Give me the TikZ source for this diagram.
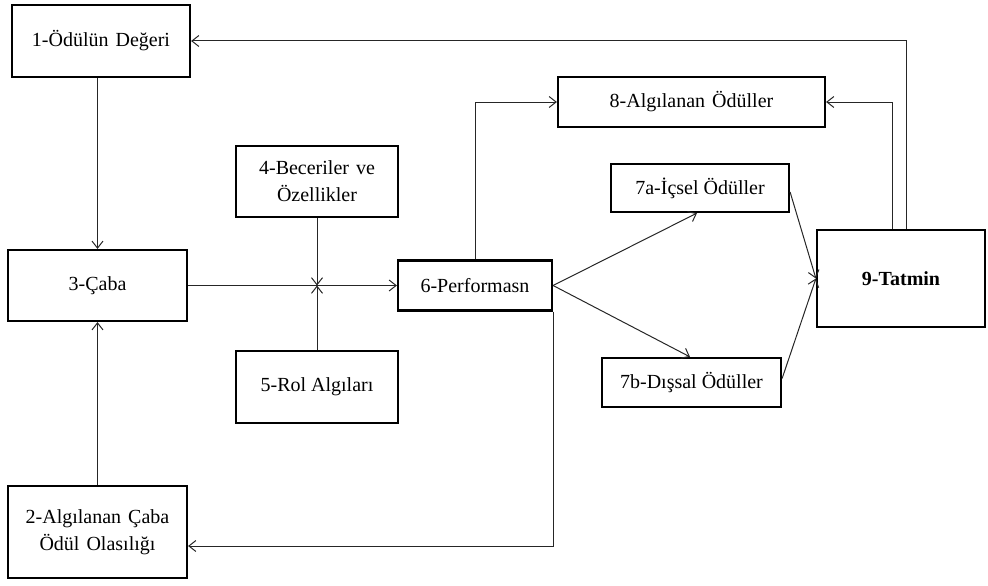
\documentclass[tikz,border=0pt]{standalone}
\usepackage{fontspec}
\setmainfont{Liberation Serif}
\usetikzlibrary{arrows.meta}
\newcommand{\wsp}{\hspace{7pt}}
\begin{document}
\begin{tikzpicture}[x=1pt,y=-1pt,
  box/.style={draw=black,line width=2.2pt,rectangle,inner sep=0pt,align=center,
    font=\fontsize{20}{27}\selectfont},
  arr/.style={draw=black!85,line width=1pt,-{Straight Barb[length=7pt,width=11pt]}}]
\useasboundingbox (0,0) rectangle (988,586);
\node[box,minimum width=178pt,minimum height=72pt] (n1) at (101,41) {1-Ödülün\wsp Değeri};
\node[box,minimum width=179pt,minimum height=71pt] (n3) at (97.5,285.5) {3-Çaba};
\node[box,minimum width=179pt,minimum height=92pt] (n2) at (97.5,532) {2-Algılanan\wsp Çaba\\Ödül\wsp Olasılığı};
\node[box,minimum width=162pt,minimum height=71pt] (n4) at (317,181.5) {4-Beceriler\wsp ve\\Özellikler};
\node[box,minimum width=162pt,minimum height=72pt] (n5) at (317,387) {5-Rol Algıları};
\node[box,minimum width=154pt,minimum height=50pt] (n6) at (475,285.5) {6-Performasn};
\node[box,minimum width=267pt,minimum height=50pt] (n8) at (691.5,102) {8-Algılanan\wsp Ödüller};
\node[box,minimum width=178pt,minimum height=48pt] (n7a) at (700,188) {7a-İçsel Ödüller};
\node[box,minimum width=179pt,minimum height=49pt] (n7b) at (691.5,382.5) {7b-Dışsal Ödüller};
\node[box,minimum width=168pt,minimum height=97pt,font=\fontsize{20}{27}\selectfont\bfseries] (t9) at (901,278.5) {9-Tatmin};
\coordinate (j) at (n4.south |- n3.east);
\draw[arr] ([xshift=5pt]t9.north) |- (n1.east);
\draw[arr] ([xshift=-9pt]t9.north) |- (n8.east);
\draw[arr] (n3.north |- n1.south) -- (n3.north);
\draw[arr] (n2.north) -- (n3.south);
\draw[arr] (n3.east) -- (n6.west);
\draw[arr] (n4.south) -- (j);
\draw[arr] (n5.north) -- (j);
\draw[arr] (n6.north) |- (n8.west);
\draw[arr] (n6.east) -- ([xshift=-3pt]n7a.south);
\draw[arr] (n6.east) -- ([xshift=-1.5pt]n7b.north);
\draw[arr] ([yshift=-4pt]n7a.east) -- (t9.west);
\draw[arr] ([yshift=4pt]n7b.east) -- (t9.west);
\draw[arr] (n6.south east) |- ([yshift=-14pt]n2.east);
\end{tikzpicture}
\end{document}
